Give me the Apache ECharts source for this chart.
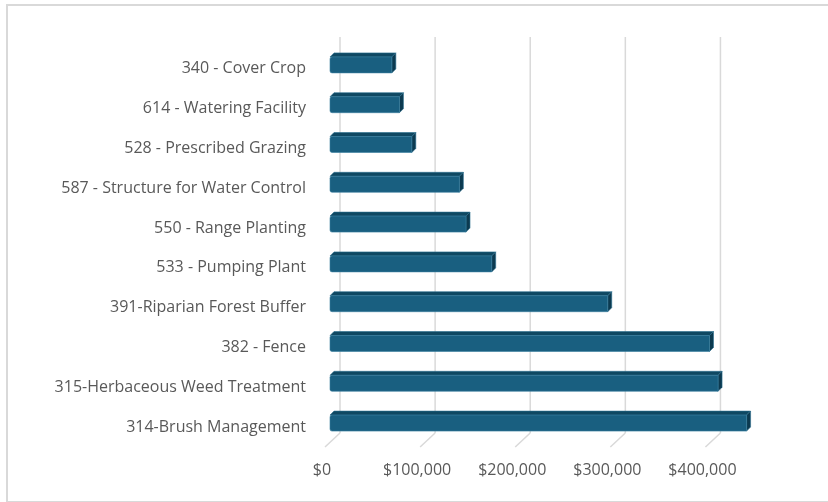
<!DOCTYPE html>
<html>
<head>
<meta charset="utf-8">
<script src="https://cdn.jsdelivr.net/npm/echarts@6/dist/echarts.min.js"></script>
<style>
  html, body { margin: 0; padding: 0; background: #fff; }
  #chart { width: 828px; height: 502px; }
</style>
</head>
<body>
<div id="chart"></div>
<script>
// practice names, top to bottom as shown
var categories = [
  '340 - Cover Crop',
  '614 - Watering Facility',
  '528 - Prescribed Grazing',
  '587 - Structure for Water Control',
  '550 - Range Planting',
  '533 - Pumping Plant',
  '391-Riparian Forest Buffer',
  '382 - Fence',
  '315-Herbaceous Weed Treatment',
  '314-Brush Management'
];
// dollars
var values = [65000, 73000, 86000, 136000, 143000, 170000, 292000, 399000, 408000, 438000];
var ticks = [0, 100000, 200000, 300000, 400000];

var myChart = echarts.init(document.getElementById('chart'));

var DEPTH = 4;     // bar depth offset
var FLOOR = 14;    // floor depth offset for gridlines

function money(v) {
  return '$' + Number(v).toLocaleString('en-US');
}

var option = {
  animation: false,
  graphic: [{
    type: 'rect',
    shape: { x: 7, y: 5, width: 900, height: 497 },
    style: { fill: 'none', stroke: '#d9d9d9', lineWidth: 2 },
    silent: true
  }],
  grid: { left: 326, top: 49, right: 74, bottom: 55 },
  xAxis: {
    type: 'value',
    min: 0,
    max: 450000,
    interval: 100000,
    axisLine: { show: false },
    axisTick: { show: false },
    splitLine: { show: false },
    axisLabel: {
      showMaxLabel: false,
      color: '#595959',
      fontFamily: 'Open Sans',
      fontSize: 16,
      margin: 15,
      padding: [0, 8, 0, 0],
      formatter: function (v) {
        return v > 400000 ? '' : money(v);
      }
    }
  },
  yAxis: {
    type: 'category',
    inverse: true,
    data: categories,
    axisLine: { show: false },
    axisTick: { show: false },
    axisLabel: {
      color: '#595959',
      fontFamily: 'Open Sans',
      fontSize: 16,
      margin: 20,
      padding: [4, 0, 0, 0]
    }
  },
  series: [
    {
      // gridlines on the back wall + slanted floor ticks
      type: 'custom',
      z: 1,
      silent: true,
      data: ticks.map(function (t) { return [t, 0]; }),
      renderItem: function (params, api) {
        var c = api.coord([api.value(0), 0]);
        var cs = params.coordSys;
        var bottom = cs.y + cs.height;
        var x = c[0];
        var st = { stroke: '#d9d9d9', lineWidth: 1.5 };
        return {
          type: 'group',
          children: [
            { type: 'line', shape: { x1: x + FLOOR, y1: cs.y - 12, x2: x + FLOOR, y2: bottom - FLOOR }, style: st },
            { type: 'line', shape: { x1: x - 1, y1: bottom, x2: x + FLOOR, y2: bottom - FLOOR }, style: st }
          ]
        };
      }
    },
    {
      // 3d-ish bars: front, top and side faces
      type: 'custom',
      z: 2,
      data: values.map(function (v, i) { return [v, i]; }),
      renderItem: function (params, api) {
        var p0 = api.coord([0, api.value(1)]);
        var p1 = api.coord([api.value(0), api.value(1)]);
        var x0 = p0[0] + 4, x1 = p1[0] + 4;
        var yt = p0[1] - 12, yb = p0[1] + 4;
        var d = DEPTH;
        return {
          type: 'group',
          children: [
            {
              type: 'polygon',
              shape: { points: [[x0, yt], [x1, yt], [x1 + d, yt - d], [x0 + d, yt - d]] },
              style: { fill: '#0f4862', stroke: '#2a6f8f', lineWidth: 0.6 }
            },
            {
              type: 'polygon',
              shape: { points: [[x1, yt], [x1 + d, yt - d], [x1 + d, yb - d], [x1, yb]] },
              style: { fill: '#0c3a50', stroke: '#2a6f8f', lineWidth: 0.6 }
            },
            {
              type: 'rect',
              shape: { x: x0, y: yt, width: x1 - x0, height: yb - yt, r: [2, 0, 0, 2] },
              style: { fill: '#195f80', stroke: '#3b7fa0', lineWidth: 0.6 }
            }
          ]
        };
      }
    }
  ]
};

myChart.setOption(option);
</script>
</body>
</html>
